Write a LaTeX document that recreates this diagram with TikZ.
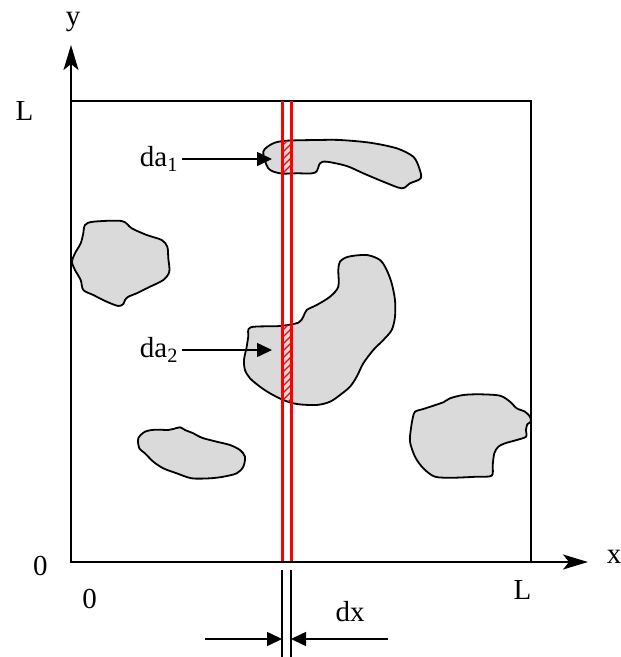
\documentclass[tikz,border=0pt]{standalone}
\usepackage{fontspec}
\setmainfont{Liberation Serif}
\usetikzlibrary{arrows.meta}
\definecolor{grainfill}{HTML}{DADADA}
\definecolor{stripred}{HTML}{FF0000}

\tikzset{
  grain/.style={draw=black, line width=1.8pt, fill=grainfill},
  axislabel/.style={font=\fontsize{29}{34}\selectfont, inner sep=0pt},
  pointer/.style={-{Triangle[length=15pt,width=14pt]}, line width=1.6pt},
  axisline/.style={-{Stealth[length=25pt,width=15pt,inset=6pt]}, line width=2pt},
  strip/.style={draw=stripred, line width=3.6pt},
  hatchline/.style={draw=stripred, line width=1.4pt},
}

\begin{document}
\begin{tikzpicture}[x=1pt, y=-1pt]
  \useasboundingbox (0,0) rectangle (621,657);

  % Square domain
  \draw[line width=1.7pt] (71,101) rectangle (531,562);

  % Grains
  \path[grain, save path=\grainone] plot[smooth cycle] coordinates {
    (263.3,151.7) (273.3,143.3) (286.7,140.7) (316.7,140) (340,140)
    (370,142.7) (396.7,148.3) (413.3,156.7) (419.3,168.3) (420.7,178.3)
    (410,183.3) (401.7,188.3) (383.3,181.7) (363.3,173.3) (346.7,166)
    (326.7,161.7) (320,163.3) (315,172.7) (296.7,173.3) (280,173.3)
    (268.3,168.3)};
  \path[grain, save path=\graintwo] plot[smooth cycle] coordinates {
    (250.7,327.3) (280,326) (298.3,322.7) (303.3,316.7) (306.7,310)
    (316.7,305) (330,296.7) (338.3,286.7) (338.3,270) (340,261.7)
    (348.3,256.7) (366.7,255) (380,260) (386.7,270) (391.7,283.3)
    (395,300) (395,316.7) (391.7,330) (383.3,340) (373.3,350)
    (363.3,363.3) (356.7,376.7) (350,386.7) (340,395) (330,401.7)
    (316.7,405) (296.7,404) (283.3,400) (270,393.3) (260,386.7)
    (250,378.3) (245,370) (244,360) (246.7,346.7) (248.3,336.7)};
  \path[grain] plot[smooth cycle] coordinates {
    (85,225) (93.3,221.7) (121.7,221) (131.7,228.3) (146.7,235)
    (161.7,240) (167.3,246.7) (168.3,258.3) (169.3,271.7) (163.3,280)
    (150,286.7) (136.7,293.3) (128.3,296.7) (125,300) (123.3,304)
    (118.3,306) (106.7,301.7) (93.3,295) (83.3,290) (80.7,280)
    (75,270) (72,261.7) (75,253.3) (80.7,243.3) (83.3,233.3)};
  \path[grain] plot[smooth cycle] coordinates {
    (138.3,438.3) (145,431.7) (155,429.7) (168.3,430) (173.3,429)
    (180,427.3) (185,430) (193.3,433.3) (201.7,437.7) (216.7,441.7)
    (230,445) (240,450) (245,456.7) (243.3,466.7) (236.7,473.3)
    (223.3,476.7) (210,478.3) (191.7,478.3) (176.7,473.3) (163.3,468.3)
    (153.3,461.7) (145,453.3) (139.3,448.3)};
  \path[grain] plot[smooth cycle] coordinates {
    (415,411.7) (423.3,409) (433.3,405.7) (443.3,402.3) (450,398.3)
    (463.3,395) (480,394.3) (500,395.7) (510,401.7) (516.7,408.3)
    (525,411.7) (530,416.7) (530.7,421.7) (527.3,424.3) (526,430)
    (526,436.7) (516.7,440) (505,443.3) (498.3,446.7) (494.3,453.3)
    (492.7,465) (491.7,475.7) (476.7,476.7) (453.3,477.7) (435,476.7)
    (423.3,468.3) (415,456.7) (410,441.7) (411,428.3) (412.7,418.3)};

  % Hatched areas inside the strip
  \begin{scope}
    \clip (282,0) rectangle (292,657);
    \clip[use path=\grainone];
    \foreach \k in {130,137,...,190}
      \draw[hatchline] (270,\k) -- ++(30,-30);
  \end{scope}
  \begin{scope}
    \clip (282,0) rectangle (292,657);
    \clip[use path=\graintwo];
    \foreach \k in {315,322,...,420}
      \draw[hatchline] (270,\k) -- ++(30,-30);
  \end{scope}

  % Strip of width dx
  \draw[strip] (282.5,101) -- (282.5,562);
  \draw[strip] (291.5,101) -- (291.5,562);

  % Axes
  \coordinate (origin) at (71,562);
  \coordinate (ytip) at (71,45);
  \coordinate (xtip) at (588,562);
  \draw[axisline] (origin) -- (ytip);
  \draw[axisline] (origin) -- (xtip);

  % Axis labels
  \node[axislabel] (ylab)   at (73,22)    {y};
  \node[axislabel] (xlab)   at (614,557)  {x};
  \node[axislabel] (ltop)   at (24.5,111) {L};
  \node[axislabel] (lright) at (522.5,590) {L};
  \node[axislabel] (zleft)  at (40.5,566) {0};
  \node[axislabel] (zbot)   at (89.5,599) {0};

  % Area elements
  \node[axislabel, inner sep=4pt] (daone) at (159,159) {da\textsubscript{1}};
  \node[axislabel, inner sep=4pt] (datwo) at (159,350) {da\textsubscript{2}};
  \coordinate (tipone) at (272,159);
  \coordinate (tiptwo) at (272,350);
  \draw[pointer] (daone) -- (tipone);
  \draw[pointer] (datwo) -- (tiptwo);

  % Width dx
  \draw[line width=1.3pt] (282,570) -- (282,657);
  \draw[line width=1.3pt] (291,570) -- (291,657);
  \coordinate (dxa) at (205,639);
  \coordinate (dxb) at (282,639);
  \coordinate (dxc) at (388,639);
  \coordinate (dxd) at (291,639);
  \draw[pointer] (dxa) -- (dxb);
  \draw[pointer] (dxc) -- (dxd);
  \node[axislabel] (dxlab) at (350,612) {dx};
\end{tikzpicture}
\end{document}
